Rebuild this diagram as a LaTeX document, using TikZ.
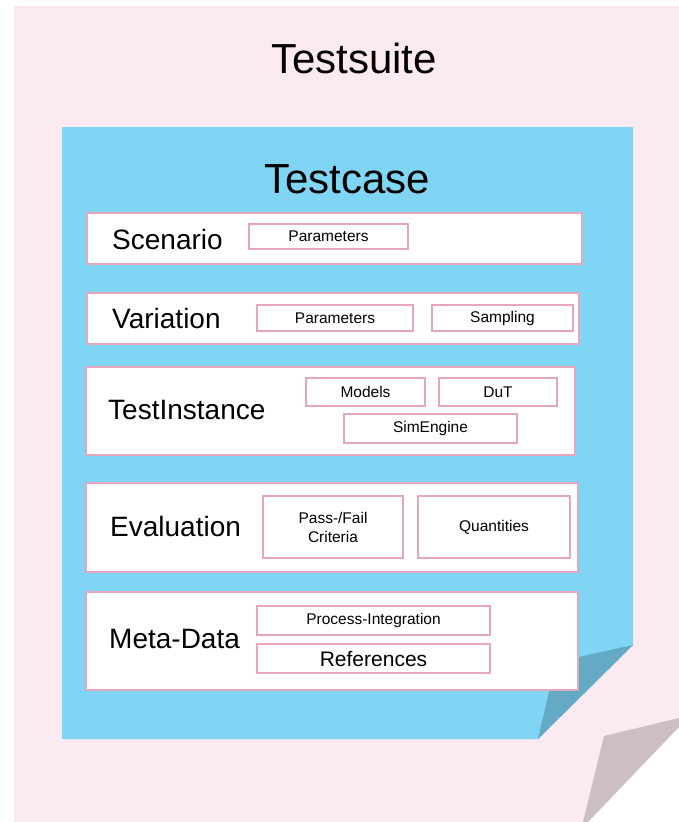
\documentclass[tikz,border=0pt]{standalone}
\usepackage{fontspec}
\setmainfont{Liberation Sans}
\definecolor{pagepink}{RGB}{251,235,240}
\definecolor{foldgrey}{RGB}{203,191,196}
\definecolor{caseblue}{RGB}{127,213,243}
\definecolor{folddark}{RGB}{100,170,197}
\definecolor{rimpink}{RGB}{232,166,190}
\begin{document}
\begin{tikzpicture}[x=1pt,y=-1pt,
  rowbox/.style={draw=rimpink, line width=2pt, fill=white, inner sep=0pt, anchor=north west},
  itembox/.style={draw=rimpink, line width=2pt, fill=white, inner sep=0pt, anchor=north west,
    font=\fontsize{15.5}{19}\selectfont, align=center},
  rowlabel/.style={anchor=west, inner sep=0pt, font=\fontsize{28}{32}\selectfont},
  title/.style={inner sep=0pt, font=\fontsize{42}{48}\selectfont}]
\useasboundingbox (0,0) rectangle (679,822);

% test suite sheet with its folded corner
\fill[pagepink] (14,6) -- (679,6) -- (679,722) -- (585,822) -- (14,822) -- cycle;
\fill[foldgrey] (679,718) -- (604,736) -- (583,822) -- (588,822) -- (679,727) -- cycle;
\node[title] (suite) at (354,58) {Testsuite};

% test case sheet with its folded corner
\fill[caseblue] (62,127) -- (633,127) -- (633,645) -- (538,739) -- (62,739) -- cycle;
\fill[folddark] (633,645) -- (556,662) -- (538,739) -- cycle;
\node[title] (case) at (347,179) {Testcase};

% Scenario
\node[rowbox, minimum width=495pt, minimum height=51pt] (scen) at (86,212) {};
\node[rowlabel] (scenl) at (112,239) {Scenario};
\node[itembox, minimum width=159pt, minimum height=25pt] (scenp) at (248,223) {Parameters};

% Variation
\node[rowbox, minimum width=492pt, minimum height=51pt] (var) at (86,292) {};
\node[rowlabel] (varl) at (112,318) {Variation};
\node[itembox, minimum width=156pt, minimum height=26pt] (varp) at (256,304) {Parameters};
\node[itembox, minimum width=141pt, minimum height=26pt] (vars) at (431,304) {Sampling};

% TestInstance
\node[rowbox, minimum width=489pt, minimum height=88pt] (inst) at (85,366) {};
\node[rowlabel] (instl) at (108,410) {TestInstance};
\node[itembox, minimum width=119pt, minimum height=28pt] (instm) at (305,377) {Models};
\node[itembox, minimum width=118pt, minimum height=28pt] (instd) at (438,377) {DuT};
\node[itembox, minimum width=173pt, minimum height=29pt] (inste) at (343,413) {SimEngine};

% Evaluation
\node[rowbox, minimum width=492pt, minimum height=89pt] (eval) at (85,482) {};
\node[rowlabel] (evall) at (110,526) {Evaluation};
\node[itembox, minimum width=140pt, minimum height=62pt] (evalp) at (262,495) {Pass-/Fail\\Criteria};
\node[itembox, minimum width=152pt, minimum height=62pt] (evalq) at (417,495) {Quantities};

% Meta-Data
\node[rowbox, minimum width=492pt, minimum height=98pt] (meta) at (85,591) {};
\node[rowlabel] (metal) at (109,639) {Meta-Data};
\node[itembox, minimum width=233pt, minimum height=29pt] (metap) at (256,605) {Process-Integration};
\node[itembox, minimum width=233pt, minimum height=29pt, font=\fontsize{21}{24}\selectfont] (metar) at (256,643) {References};
\end{tikzpicture}
\end{document}
